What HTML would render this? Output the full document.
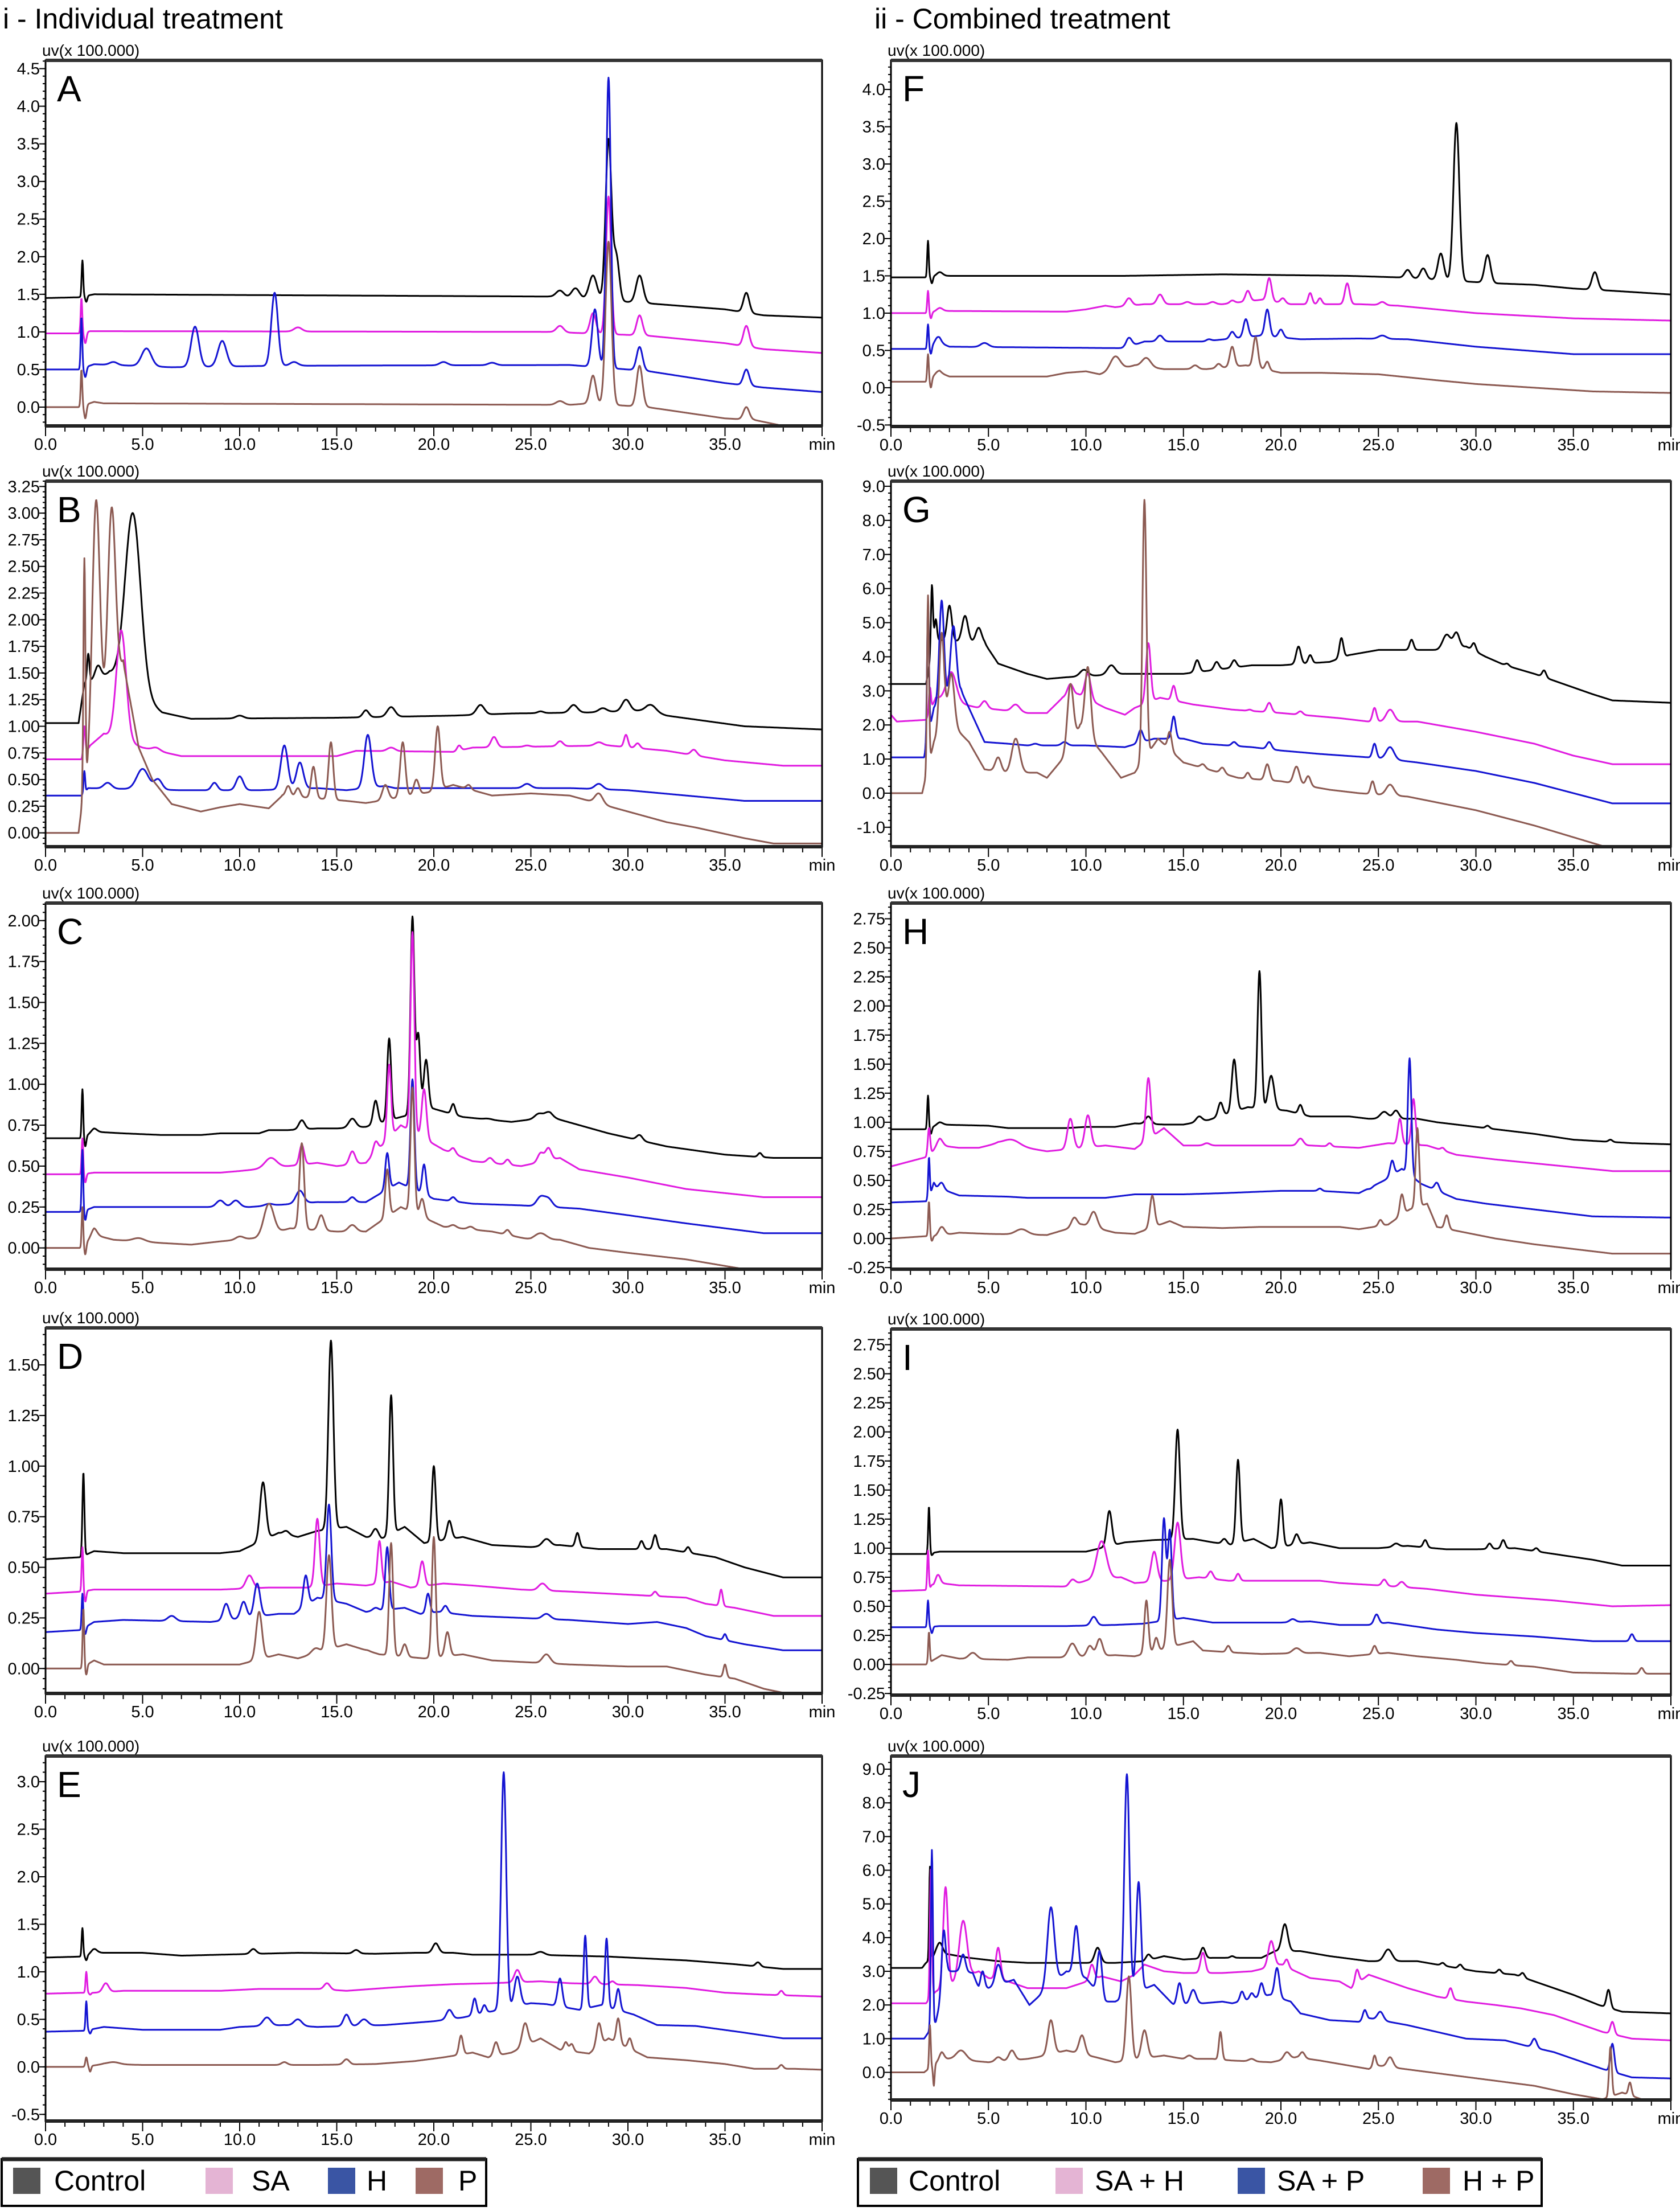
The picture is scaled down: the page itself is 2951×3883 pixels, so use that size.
<!DOCTYPE html>
<html><head><meta charset="utf-8">
<style>
html,body{margin:0;padding:0;background:#fff;}
#root{position:relative;width:2951px;height:3883px;overflow:hidden;font-family:"Liberation Sans",sans-serif;}
svg text{font-family:"Liberation Sans",sans-serif;}
</style></head>
<body>
<div id="root">
<svg id="fig" width="2951" height="3883" viewBox="0 0 2951 3883" xmlns="http://www.w3.org/2000/svg">
<text x="5" y="50" font-size="50">i - Individual treatment</text>
<text x="1536" y="50" font-size="50">ii - Combined treatment</text>
<g>
<rect x="3" y="3792" width="851" height="82" fill="#fff" stroke="#000" stroke-width="4"/>
<line x1="3" y1="3792" x2="854" y2="3792" stroke="#222" stroke-width="7"/>
<rect x="23" y="3807" width="48" height="46" fill="#555555"/>
<text x="95" y="3847" font-size="50">Control</text>
<rect x="361" y="3807" width="48" height="46" fill="#e4b4d4"/>
<text x="442" y="3847" font-size="50">SA</text>
<rect x="576" y="3807" width="48" height="46" fill="#3a55a4"/>
<text x="644" y="3847" font-size="50">H</text>
<rect x="730" y="3807" width="48" height="46" fill="#9e6a64"/>
<text x="805" y="3847" font-size="50">P</text>
</g>
<g>
<rect x="1507" y="3792" width="1201" height="82" fill="#fff" stroke="#000" stroke-width="4"/>
<line x1="1507" y1="3792" x2="2708" y2="3792" stroke="#222" stroke-width="7"/>
<rect x="1528" y="3807" width="48" height="46" fill="#555555"/>
<text x="1596" y="3847" font-size="50">Control</text>
<rect x="1854" y="3807" width="48" height="46" fill="#e4b4d4"/>
<text x="1923" y="3847" font-size="50">SA + H</text>
<rect x="2174" y="3807" width="48" height="46" fill="#3a55a4"/>
<text x="2243" y="3847" font-size="50">SA + P</text>
<rect x="2499" y="3807" width="48" height="46" fill="#9e6a64"/>
<text x="2569" y="3847" font-size="50">H + P</text>
</g>
</svg>
</div>
<script>
// ---- data: base knots [t,y,...] and peaks [t, top, width,...] per series ----
const A_c_base=[0,1.45,1.7,1.46,2.5,1.5,26,1.47,31,1.38,35,1.3,37,1.22,40,1.19];
const A_c_pk=[1.9,1.95,0.04,2.1,1.4,0.05,26.5,1.55,0.2,27.3,1.58,0.2,28.2,1.75,0.2,29.0,3.55,0.15,29.4,2.0,0.15,30.6,1.75,0.18,36.1,1.52,0.15];
const A_s_base=[0,0.98,1.7,0.98,2.3,1.01,26,1.0,31,0.95,35,0.85,37,0.77,40,0.72];
const A_s_pk=[1.85,1.45,0.04,2.05,0.85,0.06,13,1.06,0.2,26.5,1.08,0.18,28.2,1.25,0.15,29.0,2.8,0.13,30.6,1.22,0.15,36.1,1.08,0.15];
const A_h_base=[0,0.5,1.7,0.5,2.5,0.57,6.5,0.53,12,0.55,27,0.56,31,0.48,35,0.32,37,0.26,40,0.2];
const A_h_pk=[1.85,1.2,0.04,2.05,0.4,0.06,3.5,0.6,0.2,5.2,0.78,0.25,7.7,1.07,0.2,9.1,0.88,0.22,11.8,1.52,0.17,12.8,0.6,0.2,20.5,0.6,0.2,23,0.59,0.2,28.3,1.3,0.15,29.0,4.38,0.12,30.6,0.8,0.15,36.1,0.5,0.15];
const A_p_base=[0,0,1.7,0,2.5,0.07,3,0.05,27,0.03,28,0.05,31,0.0,35,-0.15,36.5,-0.17,38,-0.25,40,-0.25];
const A_p_pk=[1.85,0.5,0.04,2.05,-0.15,0.06,26.5,0.08,0.2,28.2,0.42,0.15,29.0,2.2,0.15,30.6,0.55,0.15,36.1,0.0,0.15];

const B_c_base=[0,1.03,1.7,1.03,2.0,1.4,3.3,1.5,6,1.13,7.5,1.07,15,1.08,21,1.1,24,1.12,28,1.13,31,1.15,32,1.1,36,1.0,40,0.97];
const B_c_pk=[2.2,1.68,0.06,2.7,1.57,0.15,4.5,3.0,0.4,10,1.1,0.2,16.5,1.15,0.15,17.8,1.18,0.2,22.4,1.2,0.2,25.5,1.14,0.15,27.2,1.2,0.2,28.7,1.17,0.2,29.9,1.25,0.2,31.2,1.2,0.25];
const B_s_base=[0,0.69,1.85,0.69,2.3,0.82,3.0,0.93,5,0.8,7,0.72,15,0.72,16,0.77,21,0.76,22,0.8,29,0.82,32,0.77,35,0.68,38,0.63,40,0.63];
const B_s_pk=[2.0,1.0,0.05,3.9,1.9,0.25,5.7,0.8,0.2,17.8,0.8,0.2,21.3,0.82,0.1,23.1,0.9,0.15,24.8,0.82,0.15,26.5,0.86,0.15,28.5,0.85,0.2,29.9,0.92,0.1,30.5,0.84,0.12,33.4,0.78,0.15];
const B_h_base=[0,0.35,1.85,0.35,2.2,0.42,7,0.4,11,0.4,14,0.42,15.5,0.4,17.5,0.44,18,0.42,23,0.42,27,0.42,30,0.4,33,0.35,36,0.3,40,0.3];
const B_h_pk=[2.0,0.58,0.04,3.2,0.47,0.2,5.0,0.6,0.3,5.8,0.5,0.2,8.7,0.47,0.15,10.0,0.53,0.18,12.3,0.82,0.18,13.1,0.66,0.18,16.6,0.92,0.18,24.8,0.46,0.2,28.5,0.46,0.2];
const B_p_base=[0,0,1.7,0,1.9,0.3,4.0,1.6,4.8,0.8,5.5,0.5,6.5,0.27,8,0.2,9,0.24,10,0.27,11.5,0.23,12.2,0.35,15.5,0.3,16.5,0.28,17.2,0.3,19.7,0.38,21,0.45,23,0.35,25,0.37,27,0.35,28,0.3,30,0.2,32,0.1,33.5,0.05,36,-0.05,37.5,-0.1,40,-0.1];
const B_p_pk=[2.0,2.55,0.05,2.6,3.12,0.2,3.4,3.05,0.2,12.5,0.44,0.12,13.0,0.42,0.12,13.8,0.62,0.12,14.7,0.85,0.12,17.5,0.45,0.15,18.4,0.85,0.13,19.1,0.5,0.13,20.2,1.0,0.13,21.8,0.45,0.12,28.5,0.37,0.2];

const C_c_base=[0,0.67,1.85,0.67,2.5,0.71,4,0.7,6,0.69,8,0.69,9,0.7,11,0.7,11.5,0.72,12.5,0.72,14,0.73,15,0.73,16.5,0.74,18.3,0.8,20,0.85,21.5,0.8,24,0.77,26,0.8,27.5,0.75,29,0.7,32,0.62,35,0.57,37.5,0.55,40,0.55];
const C_c_pk=[1.9,0.97,0.04,2.05,0.62,0.05,2.5,0.73,0.15,13.2,0.78,0.15,15.8,0.79,0.18,17.0,0.9,0.12,17.7,1.28,0.1,18.9,2.02,0.1,19.2,1.3,0.1,19.6,1.15,0.12,21.0,0.88,0.1,22.8,0.79,0.2,25.4,0.82,0.2,25.9,0.83,0.2,30.6,0.69,0.15,36.8,0.58,0.1];
const C_s_base=[0,0.45,1.85,0.45,2.5,0.46,9,0.46,10,0.47,12.5,0.5,14,0.52,15,0.5,16.5,0.52,18.3,0.75,20.5,0.6,22,0.53,24.5,0.5,26.5,0.55,27.5,0.48,30,0.43,33,0.36,37,0.31,40,0.31];
const C_s_pk=[1.9,0.67,0.04,2.05,0.4,0.05,11.6,0.55,0.3,13.2,0.63,0.12,15.8,0.59,0.15,17.0,0.65,0.12,17.7,1.12,0.1,18.9,1.93,0.1,19.5,0.97,0.12,21.0,0.61,0.12,22.9,0.55,0.15,23.8,0.54,0.12,25.5,0.58,0.15,25.9,0.61,0.15];
const C_h_base=[0,0.22,1.85,0.22,2.5,0.25,8,0.25,10.5,0.25,14,0.28,15,0.28,16.5,0.28,18.2,0.4,20,0.3,22,0.27,24.5,0.26,27.5,0.24,30,0.2,33,0.15,37,0.09,40,0.09];
const C_h_pk=[1.9,0.6,0.04,2.05,0.17,0.05,9.0,0.29,0.2,9.8,0.29,0.2,11.5,0.27,0.2,13.1,0.35,0.2,15.8,0.31,0.15,17.6,0.58,0.1,18.9,1.03,0.1,19.5,0.51,0.1,21,0.31,0.12,25.5,0.31,0.2,25.9,0.3,0.2];
const C_p_base=[0,0,1.85,0,2.5,0.08,3.5,0.05,6,0.03,7.5,0.02,9,0.04,10.8,0.06,12.6,0.12,15,0.1,16.5,0.1,18.3,0.25,20.5,0.13,23,0.1,25,0.05,26.5,0.05,28,0.0,30,-0.03,33,-0.07,36,-0.13,40,-0.16];
const C_p_pk=[1.9,0.25,0.04,2.05,-0.04,0.05,2.5,0.12,0.15,4.8,0.06,0.3,10,0.07,0.2,11.5,0.27,0.25,13.2,0.64,0.12,14.2,0.2,0.15,15.8,0.14,0.2,17.6,0.48,0.1,18.9,0.98,0.1,19.4,0.3,0.12,21,0.14,0.15,21.9,0.13,0.15,23.8,0.11,0.12,25.5,0.09,0.3];

const D_c_base=[0,0.54,1.8,0.55,2.5,0.58,4,0.57,9,0.57,10,0.58,12,0.67,13,0.65,14,0.68,15.5,0.7,16.5,0.65,17.3,0.64,18.5,0.7,19.5,0.62,21.5,0.65,23,0.61,25,0.6,26.5,0.61,28.5,0.59,30,0.59,32,0.59,34.5,0.55,36,0.5,38,0.45,40,0.45];
const D_c_pk=[1.95,0.97,0.05,11.2,0.92,0.15,12.4,0.68,0.15,14.7,1.62,0.13,17.0,0.69,0.15,17.8,1.35,0.1,20.0,1.0,0.1,20.8,0.73,0.12,25.8,0.64,0.2,27.4,0.67,0.1,30.7,0.63,0.1,31.4,0.66,0.1,33.1,0.6,0.1];
const D_s_base=[0,0.37,1.8,0.38,2.5,0.39,9,0.39,11.5,0.4,13.5,0.4,15,0.42,16.5,0.41,17.8,0.43,18.8,0.4,20.5,0.42,22,0.41,24.5,0.39,27,0.38,29,0.37,31,0.36,33,0.35,34,0.32,35.5,0.3,37.5,0.26,40,0.26];
const D_s_pk=[1.9,0.6,0.04,2.05,0.33,0.05,10.5,0.46,0.18,14.0,0.74,0.12,17.2,0.63,0.1,19.4,0.53,0.12,25.6,0.42,0.2,31.4,0.38,0.1,34.8,0.39,0.08];
const D_h_base=[0,0.18,1.8,0.19,2.5,0.23,4,0.24,8.5,0.23,12,0.27,12.8,0.27,14,0.35,15.5,0.32,16.5,0.28,18.5,0.3,19.3,0.27,20.2,0.28,22,0.26,24.5,0.25,27,0.24,30,0.22,31.5,0.23,33,0.2,34,0.16,36,0.12,38,0.09,40,0.09];
const D_h_pk=[1.9,0.37,0.04,2.05,0.17,0.05,6.5,0.26,0.2,9.3,0.32,0.15,10.2,0.33,0.15,10.9,0.42,0.15,13.4,0.46,0.12,14.6,0.81,0.12,17.0,0.3,0.15,17.6,0.6,0.1,19.7,0.37,0.1,20.6,0.31,0.12,25.8,0.27,0.2,35,0.17,0.08];
const D_p_base=[0,0,1.8,0,2.5,0.04,3,0.02,10,0.02,12,0.07,13,0.05,15.5,0.12,17.2,0.07,19.5,0.05,21.5,0.07,23,0.04,25,0.03,27,0.02,30,0.01,32,0.01,34,-0.03,35.5,-0.05,37,-0.1,38.5,-0.13,40,-0.15];
const D_p_pk=[1.95,0.3,0.04,2.1,-0.03,0.05,11.0,0.28,0.15,13.9,0.1,0.2,14.6,0.56,0.13,16.6,0.09,0.1,17.8,0.62,0.1,18.5,0.12,0.12,20.0,0.65,0.1,20.7,0.18,0.12,25.8,0.07,0.2,35.0,0.02,0.08];

const E_c_base=[0,1.15,1.8,1.16,2.8,1.2,5,1.2,7,1.17,11,1.19,13,1.2,17,1.19,19,1.2,21,1.2,22,1.18,25,1.18,27,1.17,29,1.16,31,1.14,33,1.12,35.5,1.08,38,1.03,40,1.03];
const E_c_pk=[1.9,1.46,0.04,2.1,1.12,0.05,2.5,1.24,0.15,10.7,1.24,0.15,16.0,1.23,0.15,20.1,1.3,0.15,25.5,1.21,0.2,36.7,1.1,0.12];
const E_s_base=[0,0.77,2.0,0.78,2.5,0.78,4,0.8,9,0.8,11,0.82,14,0.82,15.5,0.8,17.5,0.83,19,0.85,21,0.87,23,0.88,25.5,0.9,27,0.88,30.5,0.86,33,0.83,35,0.78,37,0.76,40,0.74];
const E_s_pk=[2.1,1.0,0.04,2.3,0.76,0.05,3.1,0.88,0.15,14.5,0.88,0.15,24.3,1.02,0.15,28.3,0.95,0.15,29.2,0.9,0.12,37.9,0.8,0.1];
const E_h_base=[0,0.37,2.0,0.38,3,0.42,5,0.39,9,0.39,10,0.42,12.3,0.44,14,0.42,17.5,0.44,20,0.48,21.5,0.52,25,0.67,25.8,0.66,27.5,0.6,28.6,0.65,30.3,0.55,31.5,0.44,33.5,0.43,36,0.36,38,0.3,40,0.3];
const E_h_pk=[2.1,0.69,0.04,2.3,0.35,0.05,11.4,0.52,0.2,13.0,0.5,0.2,15.5,0.55,0.15,16.4,0.5,0.2,20.8,0.6,0.15,22.1,0.72,0.1,22.6,0.65,0.1,23.6,3.1,0.13,24.3,0.95,0.15,26.5,0.93,0.12,27.8,1.38,0.08,28.9,1.35,0.08,29.5,0.82,0.1];
const E_p_base=[0,0,2.0,0,3,0.03,5,0.02,11,0.02,14,0.02,17,0.03,19,0.06,20.5,0.1,22,0.15,22.8,0.1,24,0.15,25.5,0.3,26.5,0.18,28,0.14,29,0.3,31,0.1,33,0.07,35,0.03,36.5,-0.02,38.5,-0.02,40,-0.03];
const E_p_pk=[2.1,0.1,0.05,2.3,-0.05,0.05,3.5,0.05,0.3,12.3,0.05,0.15,15.5,0.08,0.15,21.4,0.33,0.1,23.2,0.26,0.12,24.7,0.46,0.15,26.8,0.26,0.1,27.1,0.24,0.1,28.5,0.46,0.12,29.5,0.51,0.1,30.1,0.3,0.1,37.9,0.02,0.1];

const F_c_base=[0,1.48,1.8,1.48,2.5,1.5,12,1.5,17,1.52,23.5,1.5,26,1.48,31,1.4,33,1.38,35,1.33,37,1.3,40,1.25];
const F_c_pk=[1.9,1.97,0.04,2.1,1.4,0.05,2.5,1.55,0.15,26.5,1.58,0.15,27.3,1.6,0.15,28.2,1.8,0.15,29.0,3.55,0.15,30.6,1.78,0.15,36.1,1.55,0.15];
const F_s_base=[0,1.0,1.8,1.0,2.5,1.03,9,1.02,10,1.05,11,1.1,11.5,1.08,13,1.12,15,1.12,17,1.12,19,1.18,20.5,1.12,23,1.12,24,1.12,26,1.1,30,1.0,35,0.93,40,0.9];
const F_s_pk=[1.9,1.3,0.04,2.05,0.93,0.05,2.5,1.07,0.15,12.2,1.2,0.15,13.8,1.25,0.15,15.2,1.15,0.15,16.5,1.15,0.15,17.5,1.17,0.12,18.3,1.3,0.12,19.4,1.47,0.12,20.1,1.2,0.12,21.5,1.27,0.1,22.0,1.2,0.1,23.4,1.4,0.12,25.2,1.15,0.15];
const F_h_base=[0,0.52,1.8,0.52,2.5,0.6,3,0.55,12,0.53,13,0.62,16,0.62,19,0.7,21,0.65,24,0.66,26.5,0.65,30,0.55,35,0.45,40,0.45];
const F_h_pk=[1.9,0.85,0.04,2.05,0.45,0.05,2.4,0.68,0.15,4.8,0.6,0.2,12.2,0.67,0.15,13.8,0.7,0.15,16.3,0.65,0.12,17.5,0.75,0.12,18.2,0.92,0.12,19.3,1.05,0.12,20.0,0.78,0.12,25.2,0.7,0.2];
const F_p_base=[0,0.08,1.8,0.08,2.5,0.2,3,0.15,8,0.15,9,0.2,10,0.22,10.7,0.18,12.5,0.3,14,0.25,16.2,0.25,18.2,0.3,20,0.2,22,0.2,25,0.18,28,0.1,30,0.05,33,0.0,36,-0.05,40,-0.07];
const F_p_pk=[1.9,0.45,0.04,2.05,0.0,0.05,2.4,0.22,0.15,11.5,0.42,0.25,13.1,0.4,0.22,15.6,0.3,0.15,16.8,0.32,0.12,17.5,0.55,0.12,18.7,0.68,0.12,19.3,0.35,0.1];

const G_c_base=[0,3.2,1.8,3.2,2.2,4.5,4.8,4.4,5.5,3.8,7,3.5,8,3.35,9,3.4,10.5,3.45,12,3.5,15,3.5,18.5,3.75,20,3.75,22.5,3.85,23.5,4.05,25,4.2,26.5,4.2,28,4.2,29.5,4.3,30.5,4.0,31.5,3.75,33,3.5,34.5,3.2,36,2.9,37,2.72,40,2.65];
const G_c_pk=[2.1,6.1,0.05,2.3,5.1,0.06,3.0,5.5,0.12,3.8,5.2,0.15,4.5,4.85,0.15,9.9,3.62,0.2,11.3,3.75,0.2,15.7,3.9,0.12,16.7,3.85,0.12,17.6,3.9,0.12,20.9,4.3,0.12,21.5,4.05,0.1,23.1,4.55,0.1,26.7,4.5,0.1,28.5,4.65,0.2,29.0,4.7,0.15,29.9,4.4,0.1,31.6,3.8,0.1,33.5,3.6,0.1];
const G_s_base=[0,2.3,0.3,2.1,1.8,2.15,2.3,2.8,4.5,2.5,5.5,2.45,7,2.35,8,2.35,8.8,2.8,9.6,2.9,11,2.5,12,2.3,12.5,2.5,13.8,2.8,15.5,2.6,17.5,2.45,20,2.35,23,2.2,24.5,2.1,27,2.1,30,1.8,33,1.45,35,1.1,37,0.85,40,0.85];
const G_s_pk=[2.0,3.1,0.05,3.1,3.55,0.25,4.8,2.7,0.15,6.4,2.6,0.2,9.2,3.2,0.15,10.1,3.5,0.15,13.2,4.4,0.12,14.5,3.15,0.1,18.4,2.45,0.1,19.4,2.65,0.12,21,2.4,0.12,24.8,2.5,0.1,25.6,2.45,0.2];
const G_h_base=[0,1.05,1.7,1.05,2.2,2.5,3.6,3.0,4.8,1.5,6,1.45,7,1.4,10,1.4,12,1.35,13.5,1.6,15,1.6,16,1.45,18.5,1.35,20,1.25,22,1.15,24.5,1.05,25.5,1.0,27,0.9,30,0.65,33,0.3,37,-0.3,40,-0.3];
const G_h_pk=[1.9,5.5,0.05,2.6,5.65,0.12,3.2,4.9,0.15,7.4,1.45,0.15,8.9,1.5,0.15,12.8,1.85,0.12,14.5,2.25,0.1,17.6,1.5,0.12,19.4,1.5,0.12,24.8,1.45,0.1,25.6,1.35,0.2];
const G_p_base=[0,0,1.6,0,2.2,1.5,2.8,2.2,4,1.5,4.8,0.7,5.8,0.6,7.5,0.6,8,0.45,8.8,1.0,9.7,1.95,10.8,1.2,11.8,0.45,12.5,0.6,13.7,1.6,15,0.9,17.8,0.45,20,0.35,22.5,0.1,24,0.0,26.5,-0.1,30,-0.5,33,-0.95,36.5,-1.55,40,-1.9];
const G_p_pk=[1.9,5.8,0.05,2.6,4.7,0.12,3.1,3.5,0.15,5.5,1.05,0.15,6.4,1.6,0.2,9.2,3.2,0.15,10.1,3.7,0.15,13.0,8.6,0.1,14.3,1.8,0.1,16,0.85,0.12,17,0.75,0.12,18.3,0.6,0.1,19.3,0.85,0.12,20.8,0.78,0.15,21.4,0.5,0.12,24.7,0.35,0.1,25.6,0.25,0.2];

const H_c_base=[0,0.94,1.8,0.94,2.5,0.98,5,0.97,6,0.95,9,0.95,10,0.96,11.5,0.96,12.5,0.99,14,0.98,15,0.98,16.3,1.02,18.3,1.13,20.3,1.1,21.5,1.05,23.5,1.05,24.5,1.03,27,1.03,28,1.0,30,0.96,33,0.9,35,0.85,38,0.82,40,0.81];
const H_c_pk=[1.9,1.23,0.04,2.05,0.9,0.05,2.5,1.0,0.15,13.2,1.05,0.15,15.8,1.05,0.15,16.9,1.17,0.12,17.6,1.54,0.12,18.9,2.3,0.1,19.5,1.4,0.15,21.0,1.15,0.1,25.3,1.09,0.2,25.9,1.1,0.15,30.6,0.97,0.1,36.9,0.85,0.1];
const H_s_base=[0,0.62,1.8,0.7,2.5,0.8,3.5,0.78,4.5,0.78,5.5,0.82,8,0.75,11,0.8,12.5,0.77,14,0.95,15,0.8,20,0.8,21.5,0.8,24,0.78,25.5,0.82,27.5,0.8,29,0.72,31,0.68,34,0.63,37,0.58,40,0.58];
const H_s_pk=[1.95,0.95,0.06,2.5,0.86,0.15,6.2,0.85,0.4,9.2,1.03,0.15,10.1,1.06,0.15,13.2,1.38,0.12,16.2,0.82,0.15,21.0,0.86,0.15,22.5,0.82,0.1,26.1,1.03,0.1,26.8,1.2,0.1,28.3,0.78,0.1];
const H_h_base=[0,0.31,1.8,0.32,2.2,0.45,3.5,0.37,6,0.36,7,0.35,11,0.35,12.5,0.38,15,0.38,17,0.39,20,0.41,22,0.41,24,0.39,25.3,0.5,26.2,0.6,27.2,0.47,29,0.34,30.5,0.3,33,0.25,36,0.19,40,0.18];
const H_h_pk=[1.95,0.7,0.04,2.2,0.48,0.06,2.6,0.48,0.12,22.0,0.43,0.1,24.6,0.43,0.1,25.7,0.67,0.1,26.6,1.55,0.09,28.0,0.48,0.12];
const H_p_base=[0,0,1.8,0.02,2.3,0.02,3.5,0.05,5,0.04,8,0.03,9.8,0.12,11.5,0.05,12.5,0.04,14.3,0.15,15,0.1,17,0.09,19,0.1,23,0.1,24,0.08,25.5,0.12,26.6,0.25,27.5,0.3,28,0.1,29.5,0.05,31,0.0,33,-0.05,37,-0.13,40,-0.13];
const H_p_pk=[1.95,0.32,0.04,2.1,-0.02,0.05,2.6,0.1,0.15,6.7,0.08,0.3,9.4,0.18,0.15,10.4,0.23,0.18,13.4,0.37,0.12,25.1,0.16,0.1,26.2,0.38,0.1,27.0,0.95,0.09,28.5,0.2,0.1];

const I_c_base=[0,0.95,1.8,0.95,2.5,0.97,9,0.97,10,0.97,12,1.05,13.5,1.07,15.5,1.08,16.5,1.05,17.4,1.03,18.6,1.08,19.5,1.0,21.5,1.05,23,1.0,25,1.0,26.5,1.02,28.5,0.99,30,0.99,32,1.0,34,0.95,36,0.9,37.5,0.85,40,0.85];
const I_c_pk=[1.95,1.36,0.04,2.1,0.94,0.05,11.2,1.32,0.13,14.7,2.02,0.12,17.1,1.08,0.12,17.8,1.76,0.1,20.0,1.42,0.1,20.8,1.12,0.12,25.9,1.04,0.15,27.4,1.07,0.1,30.7,1.04,0.1,31.4,1.07,0.1,33.1,1.0,0.1];
const I_s_base=[0,0.63,1.8,0.64,2.5,0.7,3.5,0.68,9,0.67,10,0.72,11.8,0.75,12.5,0.7,14.2,0.72,15.8,0.75,17.3,0.72,22,0.72,23,0.7,25,0.68,27.5,0.65,30,0.6,34,0.55,37,0.5,40,0.51];
const I_s_pk=[1.9,0.98,0.04,2.1,0.68,0.05,2.4,0.77,0.12,9.3,0.73,0.15,10.8,1.06,0.25,13.5,0.97,0.15,14.7,1.22,0.15,16.4,0.8,0.12,17.8,0.78,0.1,25.3,0.73,0.12,26.2,0.71,0.15];
const I_h_base=[0,0.32,1.8,0.32,2.5,0.33,9,0.33,11.5,0.34,12.9,0.35,15,0.4,16.5,0.36,20,0.36,21.5,0.37,23,0.34,24.5,0.34,25.5,0.36,28,0.3,30,0.27,33,0.24,36,0.2,40,0.2];
const I_h_pk=[1.9,0.55,0.04,2.1,0.27,0.05,10.4,0.41,0.15,14.0,1.25,0.1,14.3,1.15,0.1,20.6,0.39,0.15,24.9,0.43,0.12,38,0.26,0.1];
const I_p_base=[0,0,1.8,0,2.6,0.08,3.5,0.05,6,0.04,7,0.06,9,0.06,11.5,0.08,12.5,0.07,15.5,0.2,16,0.12,17.8,0.1,19,0.09,22,0.1,23.5,0.07,25.5,0.1,27,0.07,29,0.04,30.5,0.01,33,-0.02,35,-0.07,38,-0.08,40,-0.08];
const I_p_pk=[1.95,0.28,0.04,2.1,0.03,0.05,4.2,0.1,0.2,9.3,0.18,0.2,10.2,0.16,0.15,10.7,0.22,0.15,13.1,0.55,0.1,13.6,0.23,0.1,14.3,0.9,0.12,17.3,0.16,0.1,20.8,0.14,0.2,24.8,0.16,0.1,31.8,0.03,0.1,38.5,-0.03,0.1];

const J_c_base=[0,3.1,1.6,3.1,2.3,3.5,3,3.5,4,3.4,5.5,3.3,7,3.25,10,3.25,11.5,3.25,13,3.3,14,3.45,15,3.35,16.5,3.4,19,3.4,19.7,3.6,21,3.6,22.5,3.45,24.5,3.3,27,3.3,28,3.2,30,3.0,32,2.9,33.5,2.6,35,2.3,36.3,2.0,37.5,1.8,40,1.75];
const J_c_pk=[1.8,3.25,0.1,2.0,6.1,0.04,2.5,3.85,0.15,10.6,3.7,0.15,13.2,3.5,0.12,16.0,3.7,0.12,17.5,3.45,0.1,20.2,4.4,0.15,25.5,3.65,0.2,28.3,3.25,0.1,29.2,3.2,0.1,31.2,3.05,0.1,32.4,2.95,0.1,36.8,2.45,0.1];
const J_s_base=[0,2.05,1.8,2.05,2.3,2.4,4.5,3.0,5,2.8,6,2.7,7,2.5,9,2.5,9.8,2.65,10.8,2.85,11.8,2.7,12.5,2.9,13,3.2,14,3.0,15,2.95,17,2.95,18.5,3.0,20,3.2,21.5,2.8,23,2.7,23.6,2.5,24.5,2.9,26.5,2.5,28,2.25,29.5,2.1,31,2.0,32.3,1.9,34,1.7,35.5,1.4,36.5,1.2,38,1.0,40,0.95];
const J_s_pk=[2.05,6.1,0.05,2.8,5.5,0.12,3.7,4.5,0.2,5.5,3.7,0.12,10.3,3.2,0.12,16.0,3.55,0.12,19.5,3.9,0.15,20.3,3.35,0.1,23.9,3.05,0.1,28.7,2.5,0.1,37.0,1.5,0.1];
const J_h_base=[0,1.0,1.7,1.0,2.3,1.5,2.9,3.0,3.5,3.0,4.2,2.95,4.5,2.5,5.0,2.5,6.3,2.75,7.1,2.0,9,3.0,10,2.8,11,2.1,11.5,2.1,13.5,2.6,14.5,2.0,16,2.05,17,2.1,17.5,2.05,19.4,2.3,20.5,2.1,21,1.75,22.5,1.55,24,1.5,24.6,1.6,26.5,1.4,28,1.2,29.5,1.0,31.5,0.95,32.5,0.8,34,0.6,35,0.4,36.5,0.1,38,-0.15,40,-0.18];
const J_h_pk=[2.1,6.6,0.05,2.7,4.2,0.1,3.7,3.5,0.12,4.7,3.0,0.1,5.5,3.2,0.15,8.2,4.9,0.18,9.5,4.35,0.13,10.7,3.6,0.12,12.1,8.85,0.13,12.7,5.65,0.12,14.8,2.65,0.12,15.5,2.45,0.15,18,2.4,0.1,18.5,2.35,0.1,19,2.65,0.1,19.8,3.1,0.12,24.3,1.85,0.1,25.1,1.8,0.15,33.0,1.0,0.12,37.0,0.85,0.1];
const J_p_base=[0,0,1.7,0,2.6,0.4,3,0.4,5,0.3,7,0.4,7.5,0.45,9,0.65,10.5,0.45,11.5,0.3,14,0.5,15,0.4,16.5,0.4,17.5,0.35,19.5,0.3,20.8,0.45,22,0.35,23.5,0.2,24.5,0.1,25,0.2,27,0.05,29,-0.1,31,-0.25,33,-0.4,35,-0.65,36.5,-0.8,37.5,-0.6,38.5,-0.8,40,-0.85];
const J_p_pk=[2.0,1.4,0.04,2.2,-0.4,0.04,2.6,0.6,0.12,3.6,0.65,0.25,5.5,0.45,0.15,6.2,0.65,0.15,8.2,1.55,0.15,9.8,1.1,0.15,12.2,2.85,0.13,13.0,1.25,0.15,15.3,0.5,0.15,16.9,1.2,0.08,18.5,0.4,0.15,20.3,0.6,0.15,21.1,0.6,0.12,24.8,0.5,0.08,25.6,0.45,0.15,36.9,0.75,0.07,37.9,-0.3,0.08];

const yDomains={A:[-0.25,4.61],B:[-0.13,3.3],C:[-0.13,2.107],D:[-0.123,1.683],E:[-0.57,3.27],F:[-0.52,4.39],G:[-1.57,9.15],H:[-0.264,2.885],I:[-0.264,2.885],J:[-0.82,9.39]};
const yTickLabels={A:["0.0","0.5","1.0","1.5","2.0","2.5","3.0","3.5","4.0","4.5"],B:["0.00","0.25","0.50","0.75","1.00","1.25","1.50","1.75","2.00","2.25","2.50","2.75","3.00","3.25"],C:["0.00","0.25","0.50","0.75","1.00","1.25","1.50","1.75","2.00"],D:["0.00","0.25","0.50","0.75","1.00","1.25","1.50"],E:["-0.5","0.0","0.5","1.0","1.5","2.0","2.5","3.0"],F:["-0.5","0.0","0.5","1.0","1.5","2.0","2.5","3.0","3.5","4.0"],G:["-1.0","0.0","1.0","2.0","3.0","4.0","5.0","6.0","7.0","8.0","9.0"],H:["-0.25","0.00","0.25","0.50","0.75","1.00","1.25","1.50","1.75","2.00","2.25","2.50","2.75"],I:["-0.25","0.00","0.25","0.50","0.75","1.00","1.25","1.50","1.75","2.00","2.25","2.50","2.75"],J:["0.0","1.0","2.0","3.0","4.0","5.0","6.0","7.0","8.0","9.0"]};
const xTickLabels=["0.0","5.0","10.0","15.0","20.0","25.0","30.0","35.0"];
const xDomain=[0,40];
const seriesNames=["control","sa","h","p"];

const L={x0:80,x1:1444}, R={x0:1565,x1:2935};
const boxes={A:[L,106,748],B:[L,845,1487],C:[L,1586,2229],D:[L,2332,2974],E:[L,3084,3725],
F:[R,106,749],G:[R,845,1487],H:[R,1586,2229],I:[R,2334,2977],J:[R,3084,3688]};
const colors=["#000000","#e01ce0","#1414d2","#8c5a52"];
const NS="http://www.w3.org/2000/svg";
const svg=document.getElementById('fig');
function lookup(name){return eval(name);}
function mk(tag,attrs,parent){const e=document.createElementNS(NS,tag);for(const k in attrs)e.setAttribute(k,attrs[k]);(parent||svg).appendChild(e);return e;}
function interp(base,t){for(let i=0;i<base.length-2;i+=2){if(t<=base[i+2]){const t0=base[i],t1=base[i+2];const f=(t-t0)/(t1-t0);return base[i+1]+f*(base[i+3]-base[i+1]);}}return base[base.length-1];}
function signal(base,pk,t){let y=interp(base,t);for(let i=0;i<pk.length;i+=3){const tp=pk[i],a=pk[i+1]-interp(base,tp),w=pk[i+2];const d=(t-tp)/w;if(Math.abs(d)<6)y+=a*Math.exp(-0.5*d*d);}return y;}
["A","B","C","D","E","F","G","H","I","J"].forEach(id=>{
  const [X,top,bot]=boxes[id];const x0=X.x0,x1=X.x1;
  const [ymin,ymax]=yDomains[id];
  const sx=t=>x0+(t-xDomain[0])/(xDomain[1]-xDomain[0])*(x1-x0);
  const sy=v=>bot-(v-ymin)/(ymax-ymin)*(bot-top);
  const g=mk('g',{});
  
  
  const cp=mk('clipPath',{id:'clip'+id},g);mk('rect',{x:x0,y:top,width:x1-x0,height:bot-top},cp);
  const uv=mk('text',{x:x0-6,y:top-8,'font-size':28},g);uv.textContent='uv(x 100.000)';
  
  
  const labs=yTickLabels[id];const step=parseFloat(labs[1])-parseFloat(labs[0]);const minor=step/5;
  const yg=mk('g',{},g);
  
  
  for(let v=Math.ceil(ymin/minor)*minor;v<=ymax+1e-9;v+=minor){const yy=sy(v);mk('line',{x1:x0-5,x2:x0,y1:yy,y2:yy,stroke:'#000','stroke-width':2},yg);}
  labs.forEach(s=>{const v=parseFloat(s);const yy=sy(v);mk('line',{x1:x0-11,x2:x0,y1:yy,y2:yy,stroke:'#000','stroke-width':2},yg);
    const tx=mk('text',{x:x0-10,y:yy+10,'font-size':29,'text-anchor':'end'},yg);tx.textContent=s;
    
    });
  const xg=mk('g',{},g);
  
  
  for(let t=0;t<=40;t++){const xx=sx(t);const maj=t%5===0;mk('line',{x1:xx,x2:xx,y1:bot,y2:bot+(maj?18:10),stroke:'#000','stroke-width':2},xg);}
  xTickLabels.forEach(s=>{const xx=sx(parseFloat(s));const tx=mk('text',{x:xx,y:bot+42,'font-size':29,'text-anchor':'middle'},xg);tx.textContent=s;
    
    });
  const mn=mk('text',{x:sx(40),y:bot+42,'font-size':29,'text-anchor':'middle'},xg);mn.textContent='min';
  
  
  const tg=mk('g',{'clip-path':'url(#clip'+id+')'},g);
  ["c","s","h","p"].forEach((k,si)=>{
    const base=lookup(id+'_'+k+'_base'),pk=lookup(id+'_'+k+'_pk');
    let d='';for(let t=0;t<=40.001;t+=0.02){const v=signal(base,pk,t);d+=(d?'L':'M')+sx(t).toFixed(1)+','+sy(v).toFixed(1);}
    const p=mk('path',{d:d,fill:'none',stroke:colors[si],'stroke-width':3,'stroke-linejoin':'round'},tg);
    
    
  });
  mk('rect',{x:x0,y:top,width:x1-x0,height:bot-top,fill:'none',stroke:'#000','stroke-width':3},g);
  mk('line',{x1:x0,x2:x1,y1:top,y2:top,stroke:'#333','stroke-width':6},g);
  mk('line',{x1:x0,x2:x1,y1:bot,y2:bot,stroke:'#222','stroke-width':6},g);
  const lt=mk('text',{x:x0+20,y:top+72,'font-size':64},g);lt.textContent=id;
  
  
});
</script>
</body></html>
